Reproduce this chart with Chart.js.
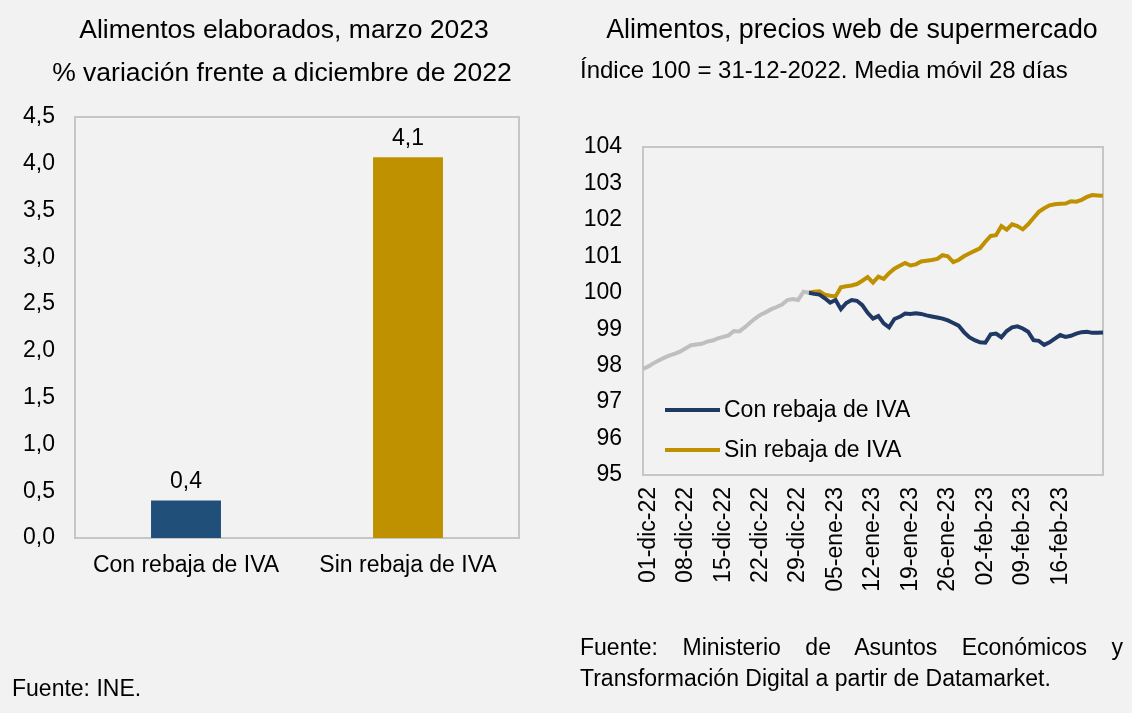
<!DOCTYPE html>
<html><head><meta charset="utf-8">
<script src="https://cdn.jsdelivr.net/npm/chart.js@4.4.1/dist/chart.umd.min.js"></script>
<style>
html,body{margin:0;padding:0;background:#f2f2f2;}
body{width:1132px;height:713px;position:relative;overflow:hidden;font-family:"Liberation Sans",Arial,sans-serif;color:#000;}
.t{position:absolute;white-space:nowrap;line-height:1;}
canvas{position:absolute;top:0;}
#c1{left:0;}
#c2{left:560px;}
.src{position:absolute;left:580px;top:632px;width:543px;font-size:23px;line-height:31px;text-align:justify;text-align-last:left;}
</style></head>
<body>
<canvas id="c1" width="560" height="713"></canvas>
<canvas id="c2" width="572" height="713"></canvas>
<div class="t" style="left:0;width:568px;text-align:center;top:16px;font-size:26.5px">Alimentos elaborados, marzo 2023</div>
<div class="t" style="left:0;width:564px;text-align:center;top:59px;font-size:26.5px">% variación frente a diciembre de 2022</div>
<div class="t" style="left:572px;width:560px;text-align:center;top:16px;font-size:26.8px">Alimentos, precios web de supermercado</div>
<div class="t" style="left:580px;top:58px;font-size:24px">Índice 100 = 31-12-2022. Media móvil 28 días</div>
<div class="t" style="left:12px;top:677px;font-size:23px">Fuente: INE.</div>
<div class="src">Fuente: Ministerio de Asuntos Económicos y Transformación Digital a partir de Datamarket.</div>
<script>
// ---------- Data ----------
const barCategories = ['Con rebaja de IVA', 'Sin rebaja de IVA'];
const barValues = [0.4, 4.07];
const barValueLabels = ['0,4', '4,1'];
const barColors = ['#204f7a', '#bf9000'];

const dateLabels = [
 '30-nov-22',
 '01-dic-22','02-dic-22','03-dic-22','04-dic-22','05-dic-22','06-dic-22','07-dic-22','08-dic-22','09-dic-22','10-dic-22',
 '11-dic-22','12-dic-22','13-dic-22','14-dic-22','15-dic-22','16-dic-22','17-dic-22','18-dic-22','19-dic-22','20-dic-22',
 '21-dic-22','22-dic-22','23-dic-22','24-dic-22','25-dic-22','26-dic-22','27-dic-22','28-dic-22','29-dic-22','30-dic-22','31-dic-22',
 '01-ene-23','02-ene-23','03-ene-23','04-ene-23','05-ene-23','06-ene-23','07-ene-23','08-ene-23','09-ene-23','10-ene-23',
 '11-ene-23','12-ene-23','13-ene-23','14-ene-23','15-ene-23','16-ene-23','17-ene-23','18-ene-23','19-ene-23','20-ene-23',
 '21-ene-23','22-ene-23','23-ene-23','24-ene-23','25-ene-23','26-ene-23','27-ene-23','28-ene-23','29-ene-23','30-ene-23','31-ene-23',
 '01-feb-23','02-feb-23','03-feb-23','04-feb-23','05-feb-23','06-feb-23','07-feb-23','08-feb-23','09-feb-23','10-feb-23',
 '11-feb-23','12-feb-23','13-feb-23','14-feb-23','15-feb-23','16-feb-23','17-feb-23','18-feb-23','19-feb-23','20-feb-23',
 '21-feb-23','22-feb-23','23-feb-23','24-feb-23'
];
const shownDateTicks = ['01-dic-22','08-dic-22','15-dic-22','22-dic-22','29-dic-22','05-ene-23','12-ene-23','19-ene-23','26-ene-23','02-feb-23','09-feb-23','16-feb-23'];

const N = null;
const preValues = [97.91, 97.98, 98.07, 98.15, 98.22, 98.28, 98.33, 98.39, 98.48, 98.56,
 98.58, 98.60, 98.66, 98.69, 98.75, 98.79, 98.83, 98.95, 98.94, 99.05,
 99.18, 99.30, 99.40, 99.47, 99.55, 99.61, 99.68, 99.80, 99.83, 99.80,
 100.03, 100.00,
 N,N,N,N,N,N,N,N,N,N, N,N,N,N,N,N,N,N,N,N, N,N,N,N,N,N,N,N,N,N,
 N,N,N,N,N,N,N,N,N,N, N,N,N,N,N,N,N,N,N,N, N,N,N,N,N];
const conRebaja = [N,N,N,N,N,N,N,N,N,N, N,N,N,N,N,N,N,N,N,N, N,N,N,N,N,N,N,N,N,N, N,
 100.00, 99.97, 99.95, 99.85, 99.73, 99.80, 99.55, 99.72, 99.80, 99.78,
 99.66, 99.45, 99.29, 99.36, 99.16, 99.05, 99.28, 99.34, 99.43, 99.42,
 99.44, 99.42, 99.38, 99.35, 99.32, 99.29, 99.24, 99.17, 99.10, 98.92,
 98.78, 98.70, 98.64, 98.63, 98.86, 98.88, 98.78, 98.95, 99.05, 99.08,
 99.02, 98.93, 98.70, 98.68, 98.57, 98.64, 98.74, 98.84, 98.79, 98.82,
 98.88, 98.92, 98.93, 98.90, 98.90, 98.91];
const sinRebaja = [N,N,N,N,N,N,N,N,N,N, N,N,N,N,N,N,N,N,N,N, N,N,N,N,N,N,N,N,N,N, N,
 100.00, 100.03, 100.04, 99.95, 99.92, 99.90, 100.15, 100.18, 100.20, 100.24,
 100.33, 100.43, 100.28, 100.44, 100.38, 100.54, 100.66, 100.74, 100.82, 100.75,
 100.78, 100.86, 100.88, 100.90, 100.93, 101.03, 101.00, 100.84, 100.90, 101.00,
 101.08, 101.15, 101.22, 101.40, 101.56, 101.58, 101.83, 101.73, 101.88, 101.83,
 101.74, 101.88, 102.05, 102.22, 102.32, 102.40, 102.43, 102.44, 102.45, 102.51,
 102.50, 102.55, 102.63, 102.68, 102.67, 102.66];

// ---------- Shared ----------
const FONT = '"Liberation Sans", Arial, sans-serif';
Chart.defaults.font.family = FONT;
Chart.defaults.color = '#000';

const boxPlugin = {
  id: 'box',
  beforeDatasetsDraw(chart) {
    const a = chart.chartArea, c = chart.ctx;
    c.save(); c.strokeStyle = '#c6c6c6'; c.lineWidth = 2;
    c.strokeRect(a.left, a.top, a.right - a.left, a.bottom - a.top);
    c.restore();
  }
};

const valueLabelPlugin = {
  id: 'valLabels',
  afterDatasetsDraw(chart) {
    const c = chart.ctx, meta = chart.getDatasetMeta(0);
    c.save(); c.font = '23px ' + FONT; c.fillStyle = '#000';
    c.textAlign = 'center'; c.textBaseline = 'middle';
    meta.data.forEach((el, i) => c.fillText(barValueLabels[i], el.x, el.y - 19));
    c.restore();
  }
};

const insideLegend = {
  id: 'insideLegend',
  afterDatasetsDraw(chart) {
    const c = chart.ctx, a = chart.chartArea;
    const items = chart.data.datasets.filter(d => d.inLegend);
    c.save(); c.font = '23px ' + FONT; c.textBaseline = 'middle'; c.textAlign = 'left';
    items.forEach((d, i) => {
      const y = a.bottom - 65 + i * 40;
      c.strokeStyle = d.borderColor; c.lineWidth = 4;
      c.beginPath(); c.moveTo(a.left + 22, y); c.lineTo(a.left + 77, y); c.stroke();
      c.fillStyle = '#000'; c.fillText(d.label, a.left + 81, y + 1);
    });
    c.restore();
  }
};

// ---------- Left: bar chart ----------
new Chart(document.getElementById('c1'), {
  type: 'bar',
  data: {
    labels: barCategories,
    datasets: [{ data: barValues, backgroundColor: barColors, barPercentage: 0.315, categoryPercentage: 1 }]
  },
  options: {
    responsive: false, animation: false, devicePixelRatio: 1,
    layout: { padding: { left: 0, top: 117, right: 41, bottom: 0 } },
    plugins: { legend: { display: false }, tooltip: { enabled: false } },
    scales: {
      x: {
        grid: { display: false, drawTicks: false }, border: { display: false },
        ticks: { color: '#000', font: { size: 23 }, padding: 14, maxRotation: 0 },
        afterFit(s) { s.height = 175; s.paddingLeft = 0; s.paddingRight = 0; }
      },
      y: {
        min: 0, max: 4.5,
        grid: { display: false, drawTicks: false }, border: { display: false },
        ticks: { stepSize: 0.5, color: '#000', font: { size: 23 }, padding: 20,
          callback: v => v.toFixed(1).replace('.', ',') },
        afterFit(s) { s.width = 75; s.paddingTop = 0; s.paddingBottom = 0; }
      }
    }
  },
  plugins: [boxPlugin, valueLabelPlugin]
});

// ---------- Right: line chart ----------
new Chart(document.getElementById('c2'), {
  type: 'line',
  data: {
    labels: dateLabels,
    datasets: [
      { label: 'Previo', data: preValues, borderColor: '#bfbfbf', borderWidth: 4, pointRadius: 0, tension: 0, inLegend: false },
      { label: 'Con rebaja de IVA', data: conRebaja, borderColor: '#1f3864', borderWidth: 4, pointRadius: 0, tension: 0, inLegend: true },
      { label: 'Sin rebaja de IVA', data: sinRebaja, borderColor: '#bf9000', borderWidth: 4, pointRadius: 0, tension: 0, inLegend: true }
    ]
  },
  options: {
    responsive: false, animation: false, devicePixelRatio: 1,
    layout: { padding: { left: 0, top: 147, right: 29, bottom: 0 } },
    plugins: { legend: { display: false }, tooltip: { enabled: false } },
    scales: {
      x: {
        offset: false,
        grid: { display: false, drawTicks: false }, border: { display: false },
        ticks: { autoSkip: false, minRotation: 90, maxRotation: 90, color: '#000', font: { size: 23 }, padding: 12,
          callback: (v, i) => shownDateTicks.includes(dateLabels[i]) ? dateLabels[i] : '' },
        afterFit(s) { s.height = 238; s.paddingLeft = 0; s.paddingRight = 0; }
      },
      y: {
        min: 95, max: 104,
        grid: { display: false, drawTicks: false }, border: { display: false },
        ticks: { stepSize: 1, color: '#000', font: { size: 23 }, padding: 21 },
        afterFit(s) { s.width = 83; s.paddingTop = 0; s.paddingBottom = 0; }
      }
    }
  },
  plugins: [boxPlugin, insideLegend]
});
</script>
</body></html>
